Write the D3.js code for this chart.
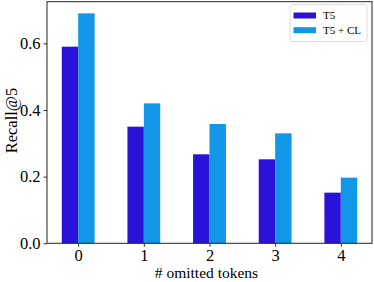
<!DOCTYPE html>
<html><head><meta charset="utf-8">
<script src="https://cdn.jsdelivr.net/npm/d3@7/dist/d3.min.js"></script>
<style>body{margin:0;background:#fff}svg{display:block}</style>
</head><body><svg id="c" width="374" height="282"></svg>
<script>
const categories = ["0","1","2","3","4"];
const seriesNames = ["T5","T5 + CL"];
const t5 = [0.59, 0.35, 0.267, 0.252, 0.152];
const t5cl = [0.69, 0.42, 0.358, 0.33, 0.197];
const yTicks = [0.0, 0.2, 0.4, 0.6];
const colors = ["#2b12d8", "#1196e8"];
const FONT = "'Liberation Serif', 'Times New Roman', serif";

const svg = d3.select("#c");
const L = 47, R = 372, T = 1.7, B = 243.3;
const x = d3.scaleLinear().domain([-0.475, 4.475]).range([L, R]);
const y = d3.scaleLinear().domain([0, 0.725]).range([B, T]);
const bw = 0.25;
const series = [t5, t5cl];

series.forEach((vals, si) => {
  svg.append("g").selectAll("rect").data(vals).join("rect")
    .attr("x", (d, i) => x(i + (si === 0 ? -bw : 0)))
    .attr("width", (d, i) => x(i + bw) - x(i))
    .attr("y", d => y(d))
    .attr("height", d => B - y(d))
    .attr("fill", colors[si]);
});

const yAxis = d3.axisLeft(y).tickValues(yTicks).tickFormat(d3.format(".1f")).tickSize(3.5).tickPadding(3);
const gy = svg.append("g").attr("transform", `translate(${L},0)`).call(yAxis);
const xAxis = d3.axisBottom(x).tickValues(categories.map((c, i) => i)).tickFormat((d, i) => categories[i]).tickSize(3.5).tickPadding(2.5);
const gx = svg.append("g").attr("transform", `translate(0,${B})`).call(xAxis);
[gx, gy].forEach(g => {
  g.attr("font-family", FONT).attr("font-size", 16.5);
  g.select(".domain").remove();
  g.selectAll("text").attr("fill", "#000");
  g.selectAll("line").attr("stroke", "#333");
});

svg.append("rect").attr("x", L).attr("y", T).attr("width", R - L).attr("height", B - T)
  .attr("fill", "none").attr("stroke", "#222").attr("stroke-width", 1);

svg.append("text").attr("transform", `translate(17,${(T + B) / 2 - 2}) rotate(-90)`)
  .attr("font-family", FONT).attr("font-size", 16.5)
  .attr("text-anchor", "middle").text("Recall@5");
svg.append("text").attr("x", (L + R) / 2 - 3).attr("y", 278)
  .attr("font-family", FONT).attr("font-size", 15.5)
  .attr("text-anchor", "middle").text("# omitted tokens");

const lg = svg.append("g");
lg.append("rect").attr("x", 290).attr("y", 4.5).attr("width", 77).attr("height", 37).attr("rx", 2)
  .attr("fill", "#fff").attr("fill-opacity", 0.8).attr("stroke", "#ddd");
seriesNames.forEach((n, i) => {
  lg.append("rect").attr("x", 293.5).attr("y", 12.5 + i * 14.7).attr("width", 22.5).attr("height", 6)
    .attr("fill", colors[i]);
  lg.append("text").attr("x", 323).attr("y", 19.3 + i * 14.2)
    .attr("font-family", FONT).attr("font-size", 11).text(n);
});
</script></body></html>
